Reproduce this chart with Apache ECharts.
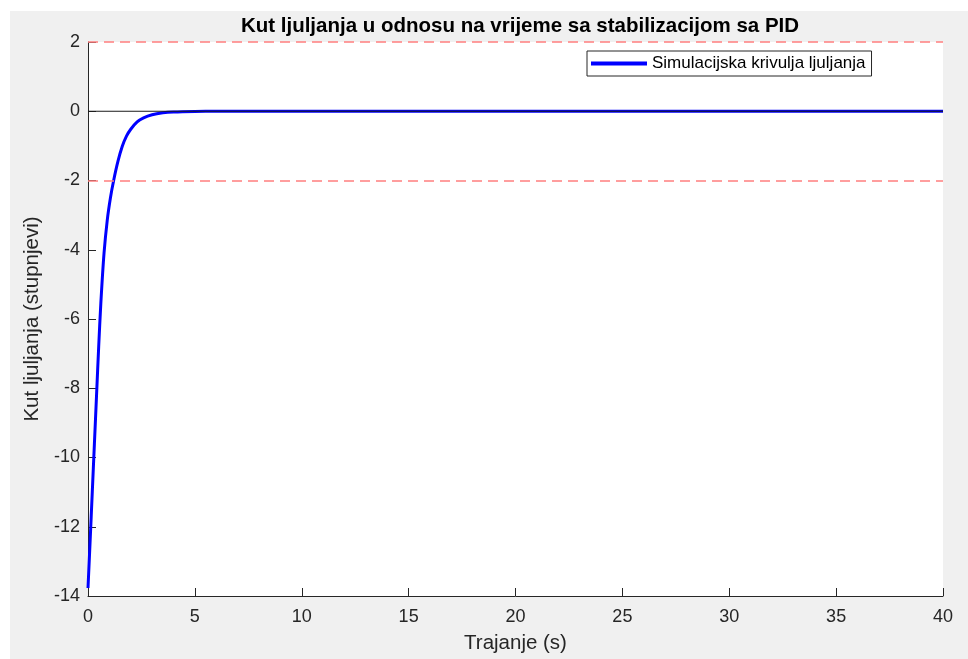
<!DOCTYPE html>
<html>
	<head>
		<meta charset="UTF-8">
		<title>Kut ljuljanja</title>
		<style>
			body { margin: 0; background: #fff; }
			#main { width: 968px; height: 659px; }
		</style>
	</head>
	<body>
		<div id="main"></div>
		<script type="text/javascript" src="https://cdn.jsdelivr.net/npm/echarts@6/dist/echarts.min.js"></script>
		<script>
			// vrijeme (s) i kut (stupnjevi) - ocitano sa slike
			var vrijeme = [0, 0.1, 0.2, 0.3, 0.4, 0.5, 0.6, 0.75, 0.9, 1.05, 1.2, 1.4, 1.6, 1.8, 2.0, 2.3, 2.6, 3.0, 3.5, 4.0, 5.0, 6.0, 8.0, 10, 15, 20, 25, 30, 35, 40];
			var kut = [-13.77, -12.4, -11.0, -9.6, -8.2, -6.8, -5.55, -4.1, -3.15, -2.5, -2.0, -1.45, -1.02, -0.72, -0.52, -0.31, -0.19, -0.10, -0.045, -0.02, -0.004, 0, 0, 0, 0, 0, 0, 0, 0, 0];
			// granice (crveno) i nula
			var granice = [2, -2];
			var nula = 0;
			var xTicks = [0, 5, 10, 15, 20, 25, 30, 35, 40];
			var yTicks = [-14, -12, -10, -8, -6, -4, -2, 0, 2];

			var chart = echarts.init(document.getElementById('main'));

			var podaci = vrijeme.map(function (t, i) { return [t, kut[i]]; });
			var nulaLinija = [[xTicks[0], nula], [xTicks[xTicks.length - 1], nula]];
			var font = 'Liberation Sans, Arial, Helvetica, sans-serif';
			var tamno = '#262626';

			var option = {
				backgroundColor: '#fff',
				animation: false,
				textStyle: { fontFamily: font },
				graphic: [{
					type: 'rect',
					z: -100,
					shape: { x: 10, y: 11, width: 958, height: 648 },
					style: { fill: '#f0f0f0' }
				}],
				title: {
					text: 'Kut ljuljanja u odnosu na vrijeme sa stabilizacijom sa PID',
					left: 515,
					textAlign: 'center',
					top: 11,
					textStyle: { fontFamily: font, fontSize: 20.5, fontWeight: 'bold', color: '#000' }
				},
				legend: {
					data: ['Simulacijska krivulja ljuljanja'],
					left: 587,
					top: 51,
					padding: [4, 6, 4, 4],
					icon: 'rect',
					itemWidth: 56,
					itemHeight: 4,
					itemGap: 5,
					backgroundColor: '#fff',
					borderColor: tamno,
					borderWidth: 1,
					borderRadius: 0,
					textStyle: { fontFamily: font, fontSize: 17, color: '#000' }
				},
				grid: {
					left: 88, right: 25, top: 42, bottom: 61,
					show: true,
					backgroundColor: '#fff',
					borderWidth: 0
				},
				xAxis: {
					type: 'value',
					min: xTicks[0], max: xTicks[xTicks.length - 1], interval: 5,
					name: 'Trajanje (s)',
					nameLocation: 'middle',
					nameGap: 37,
					nameTextStyle: { fontFamily: font, fontSize: 20.5, color: tamno },
					axisLine: { onZero: false, lineStyle: { color: tamno, width: 1 } },
					axisTick: { inside: true, length: 8, lineStyle: { color: tamno } },
					axisLabel: { margin: 12, fontFamily: font, fontSize: 18, color: tamno },
					splitLine: { show: false }
				},
				yAxis: {
					type: 'value',
					min: yTicks[0], max: yTicks[yTicks.length - 1], interval: 2,
					name: 'Kut ljuljanja (stupnjevi)',
					nameLocation: 'middle',
					nameGap: 43,
					nameTextStyle: { fontFamily: font, fontSize: 20.5, color: tamno },
					axisLine: { show: true, onZero: false, lineStyle: { color: tamno, width: 1 } },
					axisTick: { show: true, inside: true, length: 8, lineStyle: { color: tamno } },
					axisLabel: { margin: 8, fontFamily: font, fontSize: 18, color: tamno },
					splitLine: { show: false }
				},
				series: [{
					name: 'granice',
					type: 'line',
					data: [],
					z: 1,
					silent: true,
					markLine: {
						silent: true,
						symbol: 'none',
						label: { show: false },
						animation: false,
						data: granice.map(function (g) {
							return { yAxis: g, lineStyle: { color: '#ff7f7f', width: 1.5, type: [10, 6] } };
						})
					}
				}, {
					name: 'Simulacijska krivulja ljuljanja',
					type: 'line',
					data: podaci,
					z: 3,
					symbol: 'none',
					smooth: 0.3,
					lineStyle: { color: '#0000ff', width: 3 },
					itemStyle: { color: '#0000ff' }
				}, {
					// nulta linija iznad krivulje
					name: 'nula',
					type: 'line',
					data: nulaLinija,
					z: 5,
					silent: true,
					symbol: 'none',
					lineStyle: { color: '#1a1a1a', width: 1 }
				}]
			};

			chart.setOption(option);
		</script>
	</body>
</html>
